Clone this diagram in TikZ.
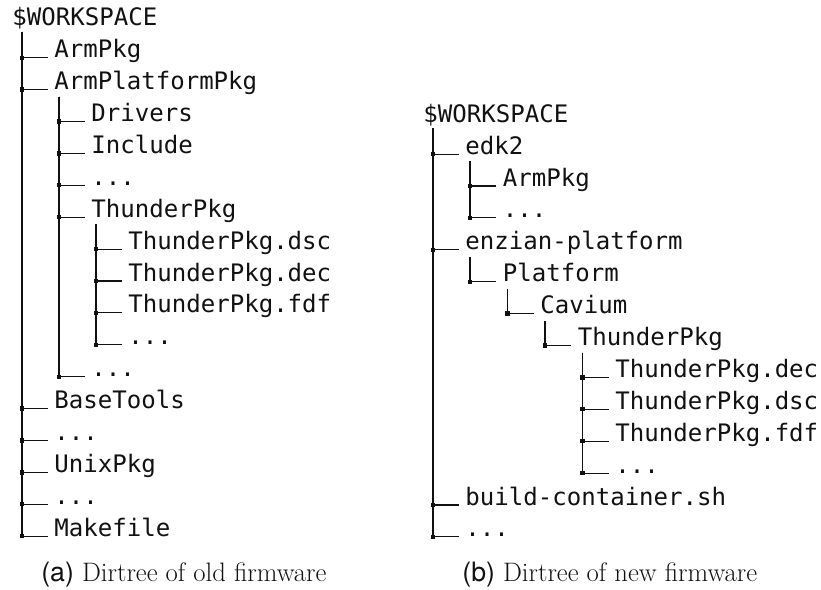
\documentclass[tikz,border=0pt]{standalone}
\usepackage{fontspec}
\setmonofont{DejaVu Sans Mono}
\newfontfamily\capsans{TeX Gyre Heros}
\usetikzlibrary{calc}
\definecolor{Ink}{HTML}{111111}
\tikzset{entry/.style={anchor=base west,inner sep=0pt,text=Ink,font=\ttfamily\fontsize{13.7}{16}\selectfont},dirline/.style={draw=Ink,line width=0.65pt},knot/.style={rectangle,fill=Ink,inner sep=0pt,minimum size=0.085cm},caption/.style={anchor=base west,inner sep=0pt,text=Ink,font=\fontsize{15.2}{18}\selectfont}}
\begin{document}
\begin{tikzpicture}[x=0.02cm,y=-0.02cm]
\useasboundingbox (0,0) rectangle (821,589);
% old firmware
\node[entry] (oRoot) at (12,25.8) {\$WORKSPACE};
\node[entry] (oArm) at (54,57.7) {ArmPkg};\node[entry] (oPlat) at (54,89.6) {ArmPlatformPkg};
\node[entry] (oDrv) at (91,121.5) {Drivers};\node[entry] (oInc) at (91,153.4) {Include};\node[entry] (oDotsA) at (91,185.3) {...};\node[entry] (oThun) at (91,217.2) {ThunderPkg};
\node[entry] (oDsc) at (128,249.1) {ThunderPkg.dsc};\node[entry] (oDec) at (128,281.0) {ThunderPkg.dec};\node[entry] (oFdf) at (128,312.9) {ThunderPkg.fdf};\node[entry] (oDotsB) at (128,344.8) {...};
\node[entry] (oDotsC) at (91,376.7) {...};
\node[entry] (oBase) at (54,408.6) {BaseTools};\node[entry] (oDotsD) at (54,440.5) {...};\node[entry] (oUnix) at (54,472.4) {UnixPkg};\node[entry] (oDotsE) at (54,504.3) {...};\node[entry] (oMake) at (54,536.2) {Makefile};
\draw[dirline] ($(oRoot.base west)+(10,6)$) |- node[knot] {} ($(oArm.base west)+(-6.5,0)$);\draw[dirline] ($(oRoot.base west)+(10,6)$) |- node[knot] {} ($(oPlat.base west)+(-6.5,0)$);
\draw[dirline] ($(oRoot.base west)+(10,6)$) |- node[knot] {} ($(oBase.base west)+(-6.5,0)$);\draw[dirline] ($(oRoot.base west)+(10,6)$) |- node[knot] {} ($(oDotsD.base west)+(-6.5,0)$);
\draw[dirline] ($(oRoot.base west)+(10,6)$) |- node[knot] {} ($(oUnix.base west)+(-6.5,0)$);\draw[dirline] ($(oRoot.base west)+(10,6)$) |- node[knot] {} ($(oDotsE.base west)+(-6.5,0)$);
\draw[dirline] ($(oRoot.base west)+(10,6)$) |- node[knot] {} ($(oMake.base west)+(-6.5,0)$);
\draw[dirline] ($(oPlat.base west)+(5,7)$) |- node[knot] {} ($(oDrv.base west)+(-6.5,0)$);\draw[dirline] ($(oPlat.base west)+(5,7)$) |- node[knot] {} ($(oInc.base west)+(-6.5,0)$);
\draw[dirline] ($(oPlat.base west)+(5,7)$) |- node[knot] {} ($(oDotsA.base west)+(-6.5,0)$);\draw[dirline] ($(oPlat.base west)+(5,7)$) |- node[knot] {} ($(oThun.base west)+(-6.5,0)$);
\draw[dirline] ($(oPlat.base west)+(5,7)$) |- node[knot] {} ($(oDotsC.base west)+(-6.5,0)$);
\draw[dirline] ($(oThun.base west)+(5,7)$) |- node[knot] {} ($(oDsc.base west)+(-6.5,0)$);\draw[dirline] ($(oThun.base west)+(5,7)$) |- node[knot] {} ($(oDec.base west)+(-6.5,0)$);
\draw[dirline] ($(oThun.base west)+(5,7)$) |- node[knot] {} ($(oFdf.base west)+(-6.5,0)$);\draw[dirline] ($(oThun.base west)+(5,7)$) |- node[knot] {} ($(oDotsB.base west)+(-6.5,0)$);
% new firmware
\node[entry] (nRoot) at (423,122.2) {\$WORKSPACE};
\node[entry] (nEdk) at (465,154.1) {edk2};\node[entry] (nArm) at (502.5,186.0) {ArmPkg};\node[entry] (nDotsA) at (502.5,217.9) {...};
\node[entry] (nEnz) at (465,249.8) {enzian-platform};\node[entry] (nPlat) at (502.5,281.7) {Platform};\node[entry] (nCav) at (540,313.6) {Cavium};\node[entry] (nThun) at (577.5,345.5) {ThunderPkg};
\node[entry] (nDec) at (615,377.4) {ThunderPkg.dec};\node[entry] (nDsc) at (615,409.3) {ThunderPkg.dsc};\node[entry] (nFdf) at (615,441.2) {ThunderPkg.fdf};\node[entry] (nDotsB) at (615,473.1) {...};
\node[entry] (nBuild) at (465,505.0) {build-container.sh};\node[entry] (nDotsC) at (465,536.9) {...};
\draw[dirline] ($(nRoot.base west)+(10,6)$) |- node[knot] {} ($(nEdk.base west)+(-6.5,0)$);\draw[dirline] ($(nRoot.base west)+(10,6)$) |- node[knot] {} ($(nEnz.base west)+(-6.5,0)$);
\draw[dirline] ($(nRoot.base west)+(10,6)$) |- node[knot] {} ($(nBuild.base west)+(-6.5,0)$);\draw[dirline] ($(nRoot.base west)+(10,6)$) |- node[knot] {} ($(nDotsC.base west)+(-6.5,0)$);
\draw[dirline] ($(nEdk.base west)+(5,7)$) |- node[knot] {} ($(nArm.base west)+(-6.5,0)$);\draw[dirline] ($(nEdk.base west)+(5,7)$) |- node[knot] {} ($(nDotsA.base west)+(-6.5,0)$);
\draw[dirline] ($(nEnz.base west)+(5,7)$) |- node[knot] {} ($(nPlat.base west)+(-6.5,0)$);\draw[dirline] ($(nPlat.base west)+(5,7)$) |- node[knot] {} ($(nCav.base west)+(-6.5,0)$);
\draw[dirline] ($(nCav.base west)+(5,7)$) |- node[knot] {} ($(nThun.base west)+(-6.5,0)$);
\draw[dirline] ($(nThun.base west)+(5,7)$) |- node[knot] {} ($(nDec.base west)+(-6.5,0)$);\draw[dirline] ($(nThun.base west)+(5,7)$) |- node[knot] {} ($(nDsc.base west)+(-6.5,0)$);
\draw[dirline] ($(nThun.base west)+(5,7)$) |- node[knot] {} ($(nFdf.base west)+(-6.5,0)$);\draw[dirline] ($(nThun.base west)+(5,7)$) |- node[knot] {} ($(nDotsB.base west)+(-6.5,0)$);
% captions
\node[caption] (capOld) at (41,581) {{\capsans(a)} Dirtree of old firmware};
\node[caption] (capNew) at (462,581) {{\capsans(b)} Dirtree of new firmware};
\end{tikzpicture}
\end{document}
